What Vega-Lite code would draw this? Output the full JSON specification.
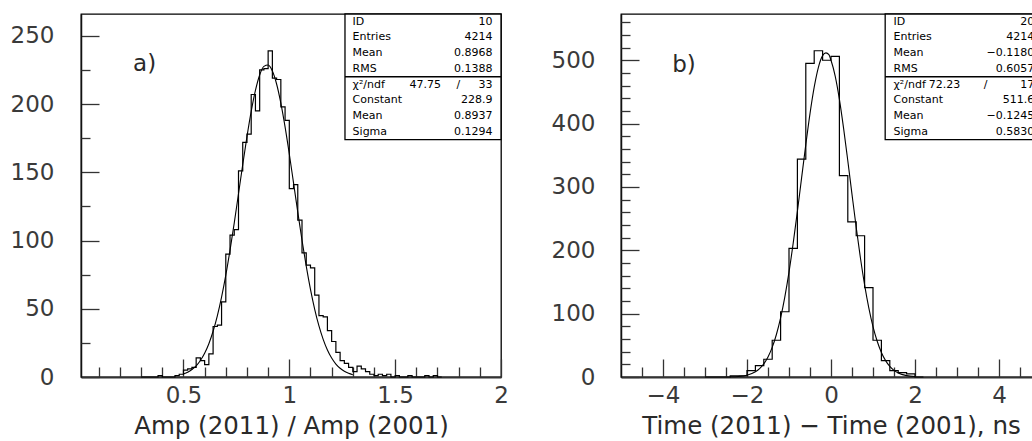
{
  "$schema": "https://vega.github.io/schema/vega-lite/v6.json",
  "usermeta": {"embedOptions": {"actions": false}},
  "background": "white",
  "padding": {"left": 9, "top": 12, "right": 0, "bottom": 0},
  "spacing": 41,
  "config": {
    "view": {"stroke": "black", "strokeWidth": 1.3},
    "axis": {
      "labelFont": "DejaVu Sans", "labelFontSize": 23, "labelColor": "#3a3a3a",
      "titleFont": "DejaVu Sans", "titleFontSize": 24.5, "titleFontWeight": "normal", "titleColor": "#2a2a2a",
      "tickColor": "#333", "tickWidth": 1.3, "domainColor": "#111", "domainWidth": 1.5,
      "grid": false, "labelOverlap": false, "labelFlush": false, "titlePadding": 7
    },
    "axisBottom": {"domainWidth": 2, "domainColor": "#333"}
  },
  "datasets": {
    "histA": [
      {"x": 0.30, "n": 0}, {"x": 0.32, "n": 0}, {"x": 0.34, "n": 0}, {"x": 0.36, "n": 0}, {"x": 0.38, "n": 1},
      {"x": 0.40, "n": 0}, {"x": 0.42, "n": 0}, {"x": 0.44, "n": 0}, {"x": 0.46, "n": 1}, {"x": 0.48, "n": 2},
      {"x": 0.50, "n": 5}, {"x": 0.52, "n": 6}, {"x": 0.54, "n": 7}, {"x": 0.56, "n": 14}, {"x": 0.58, "n": 12},
      {"x": 0.60, "n": 9}, {"x": 0.62, "n": 17}, {"x": 0.64, "n": 37}, {"x": 0.66, "n": 38}, {"x": 0.68, "n": 55},
      {"x": 0.70, "n": 90}, {"x": 0.72, "n": 104}, {"x": 0.74, "n": 108}, {"x": 0.76, "n": 151}, {"x": 0.78, "n": 172},
      {"x": 0.80, "n": 178}, {"x": 0.82, "n": 207}, {"x": 0.84, "n": 195}, {"x": 0.86, "n": 225}, {"x": 0.88, "n": 226},
      {"x": 0.90, "n": 239}, {"x": 0.92, "n": 219}, {"x": 0.94, "n": 218}, {"x": 0.96, "n": 198}, {"x": 0.98, "n": 188},
      {"x": 1.00, "n": 138}, {"x": 1.02, "n": 141}, {"x": 1.04, "n": 115}, {"x": 1.06, "n": 91}, {"x": 1.08, "n": 82},
      {"x": 1.10, "n": 80}, {"x": 1.12, "n": 60}, {"x": 1.14, "n": 45}, {"x": 1.16, "n": 44}, {"x": 1.18, "n": 34},
      {"x": 1.20, "n": 26}, {"x": 1.22, "n": 18}, {"x": 1.24, "n": 12}, {"x": 1.26, "n": 10}, {"x": 1.28, "n": 7},
      {"x": 1.30, "n": 4}, {"x": 1.32, "n": 8}, {"x": 1.34, "n": 6}, {"x": 1.36, "n": 4}, {"x": 1.38, "n": 2},
      {"x": 1.40, "n": 1}, {"x": 1.42, "n": 2}, {"x": 1.44, "n": 1}, {"x": 1.46, "n": 2}, {"x": 1.48, "n": 0},
      {"x": 1.50, "n": 1}, {"x": 1.52, "n": 0}, {"x": 1.54, "n": 0}, {"x": 1.56, "n": 1}, {"x": 1.58, "n": 0},
      {"x": 1.60, "n": 0}, {"x": 1.62, "n": 0}, {"x": 1.64, "n": 1}, {"x": 1.66, "n": 0}, {"x": 1.68, "n": 1},
      {"x": 1.70, "n": 0}, {"x": 1.72, "n": 0}
    ],
    "fitA": [
      {"x": 0.50, "f": 2.2}, {"x": 0.52, "f": 3.5}, {"x": 0.54, "f": 5.5}, {"x": 0.56, "f": 8.2}, {"x": 0.58, "f": 12.1},
      {"x": 0.60, "f": 17.4}, {"x": 0.62, "f": 24.4}, {"x": 0.64, "f": 33.5}, {"x": 0.66, "f": 44.8}, {"x": 0.68, "f": 58.5},
      {"x": 0.70, "f": 74.6}, {"x": 0.72, "f": 93.0}, {"x": 0.74, "f": 113.0}, {"x": 0.76, "f": 134.3}, {"x": 0.78, "f": 155.6},
      {"x": 0.80, "f": 176.1}, {"x": 0.82, "f": 194.6}, {"x": 0.84, "f": 210.0}, {"x": 0.86, "f": 221.3}, {"x": 0.88, "f": 227.6},
      {"x": 0.90, "f": 228.6}, {"x": 0.92, "f": 224.2}, {"x": 0.94, "f": 214.7}, {"x": 0.96, "f": 200.7}, {"x": 0.98, "f": 183.3},
      {"x": 1.00, "f": 163.4}, {"x": 1.02, "f": 142.2}, {"x": 1.04, "f": 120.8}, {"x": 1.06, "f": 100.2}, {"x": 1.08, "f": 81.2},
      {"x": 1.10, "f": 64.2}, {"x": 1.12, "f": 49.6}, {"x": 1.14, "f": 37.4}, {"x": 1.16, "f": 27.6}, {"x": 1.18, "f": 19.8},
      {"x": 1.20, "f": 13.9}, {"x": 1.22, "f": 9.5}, {"x": 1.24, "f": 6.4}, {"x": 1.26, "f": 4.2}, {"x": 1.28, "f": 2.7},
      {"x": 1.30, "f": 1.7}
    ],
    "histB": [
      {"x": -3.0, "n": 0}, {"x": -2.8, "n": 0}, {"x": -2.6, "n": 0}, {"x": -2.4, "n": 2}, {"x": -2.2, "n": 2},
      {"x": -2.0, "n": 10}, {"x": -1.8, "n": 18}, {"x": -1.6, "n": 28}, {"x": -1.4, "n": 58}, {"x": -1.2, "n": 103},
      {"x": -1.0, "n": 203}, {"x": -0.8, "n": 344}, {"x": -0.6, "n": 495}, {"x": -0.4, "n": 515}, {"x": -0.2, "n": 500},
      {"x": 0.0, "n": 506}, {"x": 0.2, "n": 318}, {"x": 0.4, "n": 245}, {"x": 0.6, "n": 223}, {"x": 0.8, "n": 141},
      {"x": 1.0, "n": 58}, {"x": 1.2, "n": 26}, {"x": 1.4, "n": 10}, {"x": 1.6, "n": 7}, {"x": 1.8, "n": 5},
      {"x": 2.0, "n": 0}, {"x": 2.2, "n": 0}
    ],
    "fitB": [
      {"x": -2.4, "f": 0.3}, {"x": -2.2, "f": 0.9}, {"x": -2.0, "f": 2.9}, {"x": -1.8, "f": 8.2}, {"x": -1.7, "f": 13.3},
      {"x": -1.6, "f": 20.8}, {"x": -1.5, "f": 31.6}, {"x": -1.4, "f": 46.7}, {"x": -1.3, "f": 67.1}, {"x": -1.2, "f": 93.3},
      {"x": -1.1, "f": 126.2}, {"x": -1.0, "f": 165.6}, {"x": -0.9, "f": 211.3}, {"x": -0.8, "f": 261.4}, {"x": -0.7, "f": 314.3},
      {"x": -0.6, "f": 366.8}, {"x": -0.5, "f": 415.8}, {"x": -0.4, "f": 457.5}, {"x": -0.3, "f": 488.9}, {"x": -0.2, "f": 507.3},
      {"x": -0.12, "f": 511.6}, {"x": -0.05, "f": 508.9}, {"x": 0.0, "f": 500.0}, {"x": 0.1, "f": 475.0}, {"x": 0.2, "f": 438.3},
      {"x": 0.3, "f": 392.5}, {"x": 0.4, "f": 341.3}, {"x": 0.5, "f": 288.3}, {"x": 0.6, "f": 236.4}, {"x": 0.7, "f": 188.2},
      {"x": 0.8, "f": 145.5}, {"x": 0.9, "f": 109.2}, {"x": 1.0, "f": 79.6}, {"x": 1.1, "f": 56.4}, {"x": 1.2, "f": 38.7},
      {"x": 1.3, "f": 25.8}, {"x": 1.4, "f": 16.7}, {"x": 1.5, "f": 10.5}, {"x": 1.6, "f": 6.4}, {"x": 1.8, "f": 2.2},
      {"x": 2.0, "f": 0.7}
    ],
    "statsA": [
      {"row": 0, "label": "ID", "value": "10"},
      {"row": 1, "label": "Entries", "value": "4214"},
      {"row": 2, "label": "Mean", "value": "0.8968"},
      {"row": 3, "label": "RMS", "value": "0.1388"},
      {"row": 4, "label": "χ²/ndf", "value": "33", "mid": "47.75", "sep": "/"},
      {"row": 5, "label": "Constant", "value": "228.9"},
      {"row": 6, "label": "Mean", "value": "0.8937"},
      {"row": 7, "label": "Sigma", "value": "0.1294"}
    ],
    "statsB": [
      {"row": 0, "label": "ID", "value": "20"},
      {"row": 1, "label": "Entries", "value": "4214"},
      {"row": 2, "label": "Mean", "value": "−0.1180"},
      {"row": 3, "label": "RMS", "value": "0.6057"},
      {"row": 4, "label": "χ²/ndf", "value": "17", "mid": "72.23", "sep": "/"},
      {"row": 5, "label": "Constant", "value": "511.6"},
      {"row": 6, "label": "Mean", "value": "−0.1245"},
      {"row": 7, "label": "Sigma", "value": "0.5830"}
    ],
    "one": [{"t": ""}],
    "tagA": [{"t": "a)"}],
    "tagB": [{"t": "b)"}]
  },
  "hconcat": [
    {
      "width": 420, "height": 363,
      "resolve": {"scale": {"y": "independent"}, "axis": {"x": "independent", "y": "independent"}},
      "layer": [
        {
          "data": {"name": "histA"},
          "mark": {"type": "line", "interpolate": "step-after", "color": "black", "strokeWidth": 1.2},
          "encoding": {
            "x": {"field": "x", "type": "quantitative", "scale": {"domain": [0.016, 2], "nice": false, "zero": false},
                  "axis": {"orient": "bottom", "values": [0.5, 1, 1.5, 2], "format": "~g", "tickSize": -18, "labelPadding": 25, "title": "Amp (2011) / Amp (2001)"}},
            "y": {"field": "n", "type": "quantitative", "scale": {"domain": [0, 266], "nice": false},
                  "axis": {"orient": "left", "values": [0, 50, 100, 150, 200, 250], "tickSize": -18, "labelPadding": 45, "title": null}}
          }
        },
        {
          "data": {"name": "fitA"},
          "mark": {"type": "line", "interpolate": "monotone", "color": "black", "strokeWidth": 1.1},
          "encoding": {
            "x": {"field": "x", "type": "quantitative",
                  "axis": {"orient": "bottom", "values": [0.1, 0.2, 0.3, 0.4, 0.6, 0.7, 0.8, 0.9, 1.1, 1.2, 1.3, 1.4, 1.6, 1.7, 1.8, 1.9], "tickSize": -10, "labels": false, "domain": false, "title": null}},
            "y": {"field": "f", "type": "quantitative", "scale": {"domain": [0, 266], "nice": false},
                  "axis": {"orient": "left", "values": [25, 75, 125, 175, 225], "tickSize": -9, "labels": false, "domain": false, "title": null}}
          }
        },
        {
          "data": {"name": "one"},
          "mark": {"type": "rect", "fill": "white", "stroke": "black", "strokeWidth": 1.3},
          "encoding": {
            "x": {"datum": 1.263, "type": "quantitative", "axis": null},
            "x2": {"datum": 2.0},
            "y": {"datum": -0.49, "type": "quantitative", "scale": {"domain": [-0.49, 22.6], "reverse": true, "nice": false, "zero": false}, "axis": null},
            "y2": {"datum": 7.5}
          }
        },
        {
          "data": {"name": "one"},
          "mark": {"type": "rule", "stroke": "black", "strokeWidth": 1.3},
          "encoding": {
            "x": {"datum": 1.263, "type": "quantitative", "axis": null},
            "x2": {"datum": 2.0},
            "y": {"datum": 3.5, "type": "quantitative", "scale": {"domain": [-0.49, 22.6], "reverse": true, "nice": false, "zero": false}, "axis": null}
          }
        },
        {
          "data": {"name": "statsA"},
          "mark": {"type": "text", "font": "DejaVu Sans", "fontSize": 11, "align": "left", "baseline": "middle", "color": "black"},
          "encoding": {
            "x": {"datum": 1.299, "type": "quantitative", "axis": null},
            "y": {"field": "row", "type": "quantitative", "scale": {"domain": [-0.49, 22.6], "reverse": true, "nice": false, "zero": false}, "axis": null},
            "text": {"field": "label"}
          }
        },
        {
          "data": {"name": "statsA"},
          "mark": {"type": "text", "font": "DejaVu Sans", "fontSize": 11, "align": "right", "baseline": "middle", "color": "black"},
          "encoding": {
            "x": {"datum": 1.96, "type": "quantitative", "axis": null},
            "y": {"field": "row", "type": "quantitative", "scale": {"domain": [-0.49, 22.6], "reverse": true, "nice": false, "zero": false}, "axis": null},
            "text": {"field": "value"}
          }
        },
        {
          "data": {"name": "statsA"},
          "transform": [{"filter": "datum.mid"}],
          "mark": {"type": "text", "font": "DejaVu Sans", "fontSize": 11, "align": "right", "baseline": "middle", "color": "black"},
          "encoding": {
            "x": {"datum": 1.717, "type": "quantitative", "axis": null},
            "y": {"field": "row", "type": "quantitative", "scale": {"domain": [-0.49, 22.6], "reverse": true, "nice": false, "zero": false}, "axis": null},
            "text": {"field": "mid"}
          }
        },
        {
          "data": {"name": "statsA"},
          "transform": [{"filter": "datum.sep"}],
          "mark": {"type": "text", "font": "DejaVu Sans", "fontSize": 11, "align": "center", "baseline": "middle", "color": "black"},
          "encoding": {
            "x": {"datum": 1.798, "type": "quantitative", "axis": null},
            "y": {"field": "row", "type": "quantitative", "scale": {"domain": [-0.49, 22.6], "reverse": true, "nice": false, "zero": false}, "axis": null},
            "text": {"field": "sep"}
          }
        },
        {
          "data": {"name": "tagA"},
          "mark": {"type": "text", "font": "DejaVu Sans", "fontSize": 23, "align": "left", "baseline": "middle", "color": "#2a2a2a"},
          "encoding": {
            "x": {"datum": 0.262, "type": "quantitative", "axis": null},
            "y": {"datum": 229, "type": "quantitative", "scale": {"domain": [0, 266], "nice": false}, "axis": null},
            "text": {"field": "t"}
          }
        }
      ]
    },
    {
      "width": 420, "height": 363,
      "resolve": {"scale": {"y": "independent"}, "axis": {"x": "independent", "y": "independent"}},
      "layer": [
        {
          "data": {"name": "histB"},
          "mark": {"type": "line", "interpolate": "step-after", "color": "black", "strokeWidth": 1.2},
          "encoding": {
            "x": {"field": "x", "type": "quantitative", "scale": {"domain": [-5, 5], "nice": false, "zero": false},
                  "axis": {"orient": "bottom", "values": [-4, -2, 0, 2, 4], "tickSize": -18, "labelPadding": 25, "title": "Time (2011) − Time (2001), ns"}},
            "y": {"field": "n", "type": "quantitative", "scale": {"domain": [0, 573], "nice": false},
                  "axis": {"orient": "left", "values": [0, 100, 200, 300, 400, 500], "tickSize": -18, "labelPadding": 44, "title": null}}
          }
        },
        {
          "data": {"name": "fitB"},
          "mark": {"type": "line", "interpolate": "monotone", "color": "black", "strokeWidth": 1.1},
          "encoding": {
            "x": {"field": "x", "type": "quantitative",
                  "axis": {"orient": "bottom", "values": [-4.5, -3.5, -3, -2.5, -1.5, -1, -0.5, 0.5, 1, 1.5, 2.5, 3, 3.5, 4.5], "tickSize": -10, "labels": false, "domain": false, "title": null}},
            "y": {"field": "f", "type": "quantitative", "scale": {"domain": [0, 573], "nice": false},
                  "axis": {"orient": "left", "values": [20, 40, 60, 80, 120, 140, 160, 180, 220, 240, 260, 280, 320, 340, 360, 380, 420, 440, 460, 480, 520, 540, 560], "tickSize": -9, "labels": false, "domain": false, "title": null}}
          }
        },
        {
          "data": {"name": "one"},
          "mark": {"type": "rect", "fill": "white", "stroke": "black", "strokeWidth": 1.3},
          "encoding": {
            "x": {"datum": 1.29, "type": "quantitative", "axis": null},
            "x2": {"datum": 5.0},
            "y": {"datum": -0.49, "type": "quantitative", "scale": {"domain": [-0.49, 22.6], "reverse": true, "nice": false, "zero": false}, "axis": null},
            "y2": {"datum": 7.5}
          }
        },
        {
          "data": {"name": "one"},
          "mark": {"type": "rule", "stroke": "black", "strokeWidth": 1.3},
          "encoding": {
            "x": {"datum": 1.29, "type": "quantitative", "axis": null},
            "x2": {"datum": 5.0},
            "y": {"datum": 3.5, "type": "quantitative", "scale": {"domain": [-0.49, 22.6], "reverse": true, "nice": false, "zero": false}, "axis": null}
          }
        },
        {
          "data": {"name": "statsB"},
          "mark": {"type": "text", "font": "DejaVu Sans", "fontSize": 11, "align": "left", "baseline": "middle", "color": "black"},
          "encoding": {
            "x": {"datum": 1.488, "type": "quantitative", "axis": null},
            "y": {"field": "row", "type": "quantitative", "scale": {"domain": [-0.49, 22.6], "reverse": true, "nice": false, "zero": false}, "axis": null},
            "text": {"field": "label"}
          }
        },
        {
          "data": {"name": "statsB"},
          "mark": {"type": "text", "font": "DejaVu Sans", "fontSize": 11, "align": "right", "baseline": "middle", "color": "black"},
          "encoding": {
            "x": {"datum": 4.84, "type": "quantitative", "axis": null},
            "y": {"field": "row", "type": "quantitative", "scale": {"domain": [-0.49, 22.6], "reverse": true, "nice": false, "zero": false}, "axis": null},
            "text": {"field": "value"}
          }
        },
        {
          "data": {"name": "statsB"},
          "transform": [{"filter": "datum.mid"}],
          "mark": {"type": "text", "font": "DejaVu Sans", "fontSize": 11, "align": "right", "baseline": "middle", "color": "black"},
          "encoding": {
            "x": {"datum": 3.076, "type": "quantitative", "axis": null},
            "y": {"field": "row", "type": "quantitative", "scale": {"domain": [-0.49, 22.6], "reverse": true, "nice": false, "zero": false}, "axis": null},
            "text": {"field": "mid"}
          }
        },
        {
          "data": {"name": "statsB"},
          "transform": [{"filter": "datum.sep"}],
          "mark": {"type": "text", "font": "DejaVu Sans", "fontSize": 11, "align": "center", "baseline": "middle", "color": "black"},
          "encoding": {
            "x": {"datum": 3.68, "type": "quantitative", "axis": null},
            "y": {"field": "row", "type": "quantitative", "scale": {"domain": [-0.49, 22.6], "reverse": true, "nice": false, "zero": false}, "axis": null},
            "text": {"field": "sep"}
          }
        },
        {
          "data": {"name": "tagB"},
          "mark": {"type": "text", "font": "DejaVu Sans", "fontSize": 23, "align": "left", "baseline": "middle", "color": "#2a2a2a"},
          "encoding": {
            "x": {"datum": -3.78, "type": "quantitative", "axis": null},
            "y": {"datum": 492.6, "type": "quantitative", "scale": {"domain": [0, 573], "nice": false}, "axis": null},
            "text": {"field": "t"}
          }
        }
      ]
    }
  ]
}
